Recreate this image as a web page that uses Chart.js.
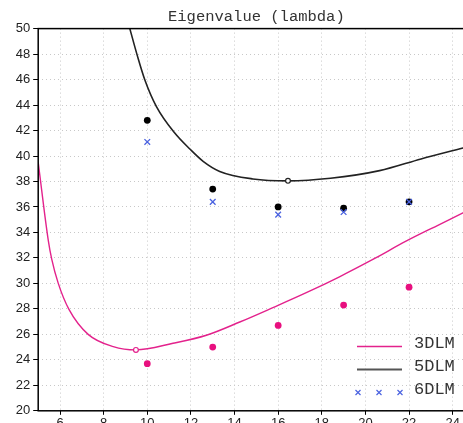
<!DOCTYPE html>
<html lang="en">
<head>
<meta charset="UTF-8" />
<title>Eigenvalue (lambda)</title>
<script src="https://cdn.jsdelivr.net/npm/chart.js"></script>
<style>
    html, body {
        margin: 0;
        padding: 0;
        background: #fff;
        overflow: hidden;
    }

    #wrap {
        position: relative;
        width: 480px;
        height: 440px;
    }
</style>
</head>
<body>
<div id="wrap"><canvas id="eigenChart"></canvas></div>

<script>
    // sample points (x = 10, 13, ... 22)
    const sampleX = [10, 13, 16, 19, 22];
    const dlm3Values = [23.7, 25.0, 26.7, 28.3, 29.7];
    const dlm5Values = [42.8, 37.4, 36.0, 35.9, 36.4];
    const dlm6Values = [41.1, 36.4, 35.4, 35.6, 36.4];

    // fitted curves
    const fit3X = [5.0, 5.46, 5.62, 5.92, 6.41, 7.29, 8.44, 9.48, 11.18, 12.71, 14.24, 15.76, 17.29, 18.81, 20.34, 21.86, 23.39, 24.47, 25.0];
    const fit3Y = [39.5, 33.4, 31.9, 30.0, 27.96, 26.0, 25.04, 24.78, 25.3, 25.93, 26.97, 28.1, 29.27, 30.52, 31.88, 33.31, 34.62, 35.54, 36.0];
    const fit5X = [9.2, 9.54, 9.89, 10.42, 11.26, 11.95, 12.56, 13.32, 14.84, 16.45, 18.4, 20.65, 22.55, 24.47, 25.0];
    const fit5Y = [50, 47.9, 45.97, 43.88, 41.8, 40.55, 39.58, 38.79, 38.2, 38.05, 38.25, 38.85, 39.77, 40.63, 40.87];

    // minimum of each curve (open markers)
    const min3 = { x: 9.48, y: 24.78 };
    const min5 = { x: 16.45, y: 38.05 };

    const xTicks = [6, 8, 10, 12, 14, 16, 18, 20, 22, 24];
    const legendNames = ["3DLM", "5DLM", "6DLM"];

    const PINK = "#e3228c";
    const PINK_DOT = "#e8107f";
    const DARK = "#222222";
    const BLUE = "#4a62e0";

    function pts(xs, ys) {
        return xs.map((x, i) => ({ x: x, y: ys[i] }));
    }

    // frame, title and legend
    const decorPlugin = {
        id: "decor",
        afterDraw(chart) {
            const ctx = chart.ctx;
            const a = chart.chartArea;
            ctx.save();
            ctx.strokeStyle = "#000";
            ctx.lineWidth = 1.5;
            ctx.strokeRect(a.left, a.top, a.right - a.left, a.bottom - a.top);

            ctx.fillStyle = "#333";
            ctx.font = "15.5px 'Liberation Mono', 'DejaVu Sans Mono', monospace";
            ctx.textAlign = "center";
            ctx.textBaseline = "alphabetic";
            ctx.fillText("Eigenvalue (lambda)", (a.left + a.right) / 2, 21);

            // legend
            ctx.font = "17px 'Liberation Mono', 'DejaVu Sans Mono', monospace";
            ctx.textAlign = "left";
            const rows = [347, 370, 393];
            ctx.lineWidth = 1.4;
            ctx.strokeStyle = PINK;
            ctx.beginPath(); ctx.moveTo(357, rows[0] - 0.5); ctx.lineTo(402, rows[0] - 0.5); ctx.stroke();
            ctx.strokeStyle = "#555";
            ctx.lineWidth = 1.8;
            ctx.beginPath(); ctx.moveTo(357, rows[1] - 0.5); ctx.lineTo(402, rows[1] - 0.5); ctx.stroke();
            ctx.strokeStyle = BLUE;
            ctx.lineWidth = 1.2;
            [358, 379, 400].forEach(cx => {
                const cy = rows[2] - 0.5, r = 2.5;
                ctx.beginPath();
                ctx.moveTo(cx - r, cy - r); ctx.lineTo(cx + r, cy + r);
                ctx.moveTo(cx + r, cy - r); ctx.lineTo(cx - r, cy + r);
                ctx.stroke();
            });
            ctx.fillStyle = "#333";
            legendNames.forEach((t, i) => ctx.fillText(t, 414, rows[i] + 1));
            ctx.restore();
        }
    };

    const tickFont = { family: "'Liberation Sans', Arial, sans-serif", size: 13 };

    new Chart(document.getElementById("eigenChart"), {
        type: "scatter",
        data: {
            datasets: [
                {
                    label: "6DLM",
                    data: pts(sampleX, dlm6Values),
                    pointStyle: "crossRot",
                    pointRadius: 4,
                    borderColor: BLUE,
                    borderWidth: 1.3,
                    showLine: false
                },
                {
                    label: "5DLM pts",
                    data: pts(sampleX, dlm5Values),
                    pointRadius: 3.4,
                    backgroundColor: "#000",
                    borderColor: "#000",
                    borderWidth: 0,
                    showLine: false
                },
                {
                    label: "3DLM pts",
                    data: pts(sampleX, dlm3Values),
                    pointRadius: 3.4,
                    backgroundColor: PINK_DOT,
                    borderColor: PINK_DOT,
                    borderWidth: 0,
                    showLine: false
                },
                {
                    label: "min",
                    data: [min3, min5],
                    pointRadius: 2.4,
                    backgroundColor: "#fff",
                    borderColor: [PINK, DARK],
                    borderWidth: 1.2,
                    showLine: false
                },
                {
                    label: "5DLM",
                    data: pts(fit5X, fit5Y),
                    showLine: true,
                    borderColor: DARK,
                    borderWidth: 1.6,
                    pointRadius: 0,
                    cubicInterpolationMode: "monotone"
                },
                {
                    label: "3DLM",
                    data: pts(fit3X, fit3Y),
                    showLine: true,
                    borderColor: PINK,
                    borderWidth: 1.4,
                    pointRadius: 0,
                    cubicInterpolationMode: "monotone"
                }
            ]
        },
        options: {
            responsive: true,
            maintainAspectRatio: false,
            animation: false,
            layout: { padding: { top: 28.6, right: 5.5, left: 0, bottom: 0 } },
            plugins: {
                legend: { display: false },
                title: { display: false },
                tooltip: { enabled: false }
            },
            scales: {
                x: {
                    type: "linear",
                    min: 5,
                    max: 25,
                    afterBuildTicks: axis => { axis.ticks = xTicks.map(v => ({ value: v })); },
                    afterFit: scale => { scale.height = 29.2; },
                    ticks: { font: tickFont, color: "#222", padding: 1, maxRotation: 0 },
                    grid: { color: "#c8c8c8", tickColor: "#000", tickLength: 4, lineWidth: 1 },
                    border: { display: false, dash: [1, 3] }
                },
                y: {
                    min: 20,
                    max: 50,
                    afterFit: scale => { scale.width = 38.2; },
                    ticks: { stepSize: 2, font: tickFont, color: "#222", padding: 3 },
                    grid: { color: "#c8c8c8", tickColor: "#000", tickLength: 5, lineWidth: 1 },
                    border: { display: false, dash: [1, 3] }
                }
            }
        },
        plugins: [decorPlugin]
    });
</script>
</body>
</html>
